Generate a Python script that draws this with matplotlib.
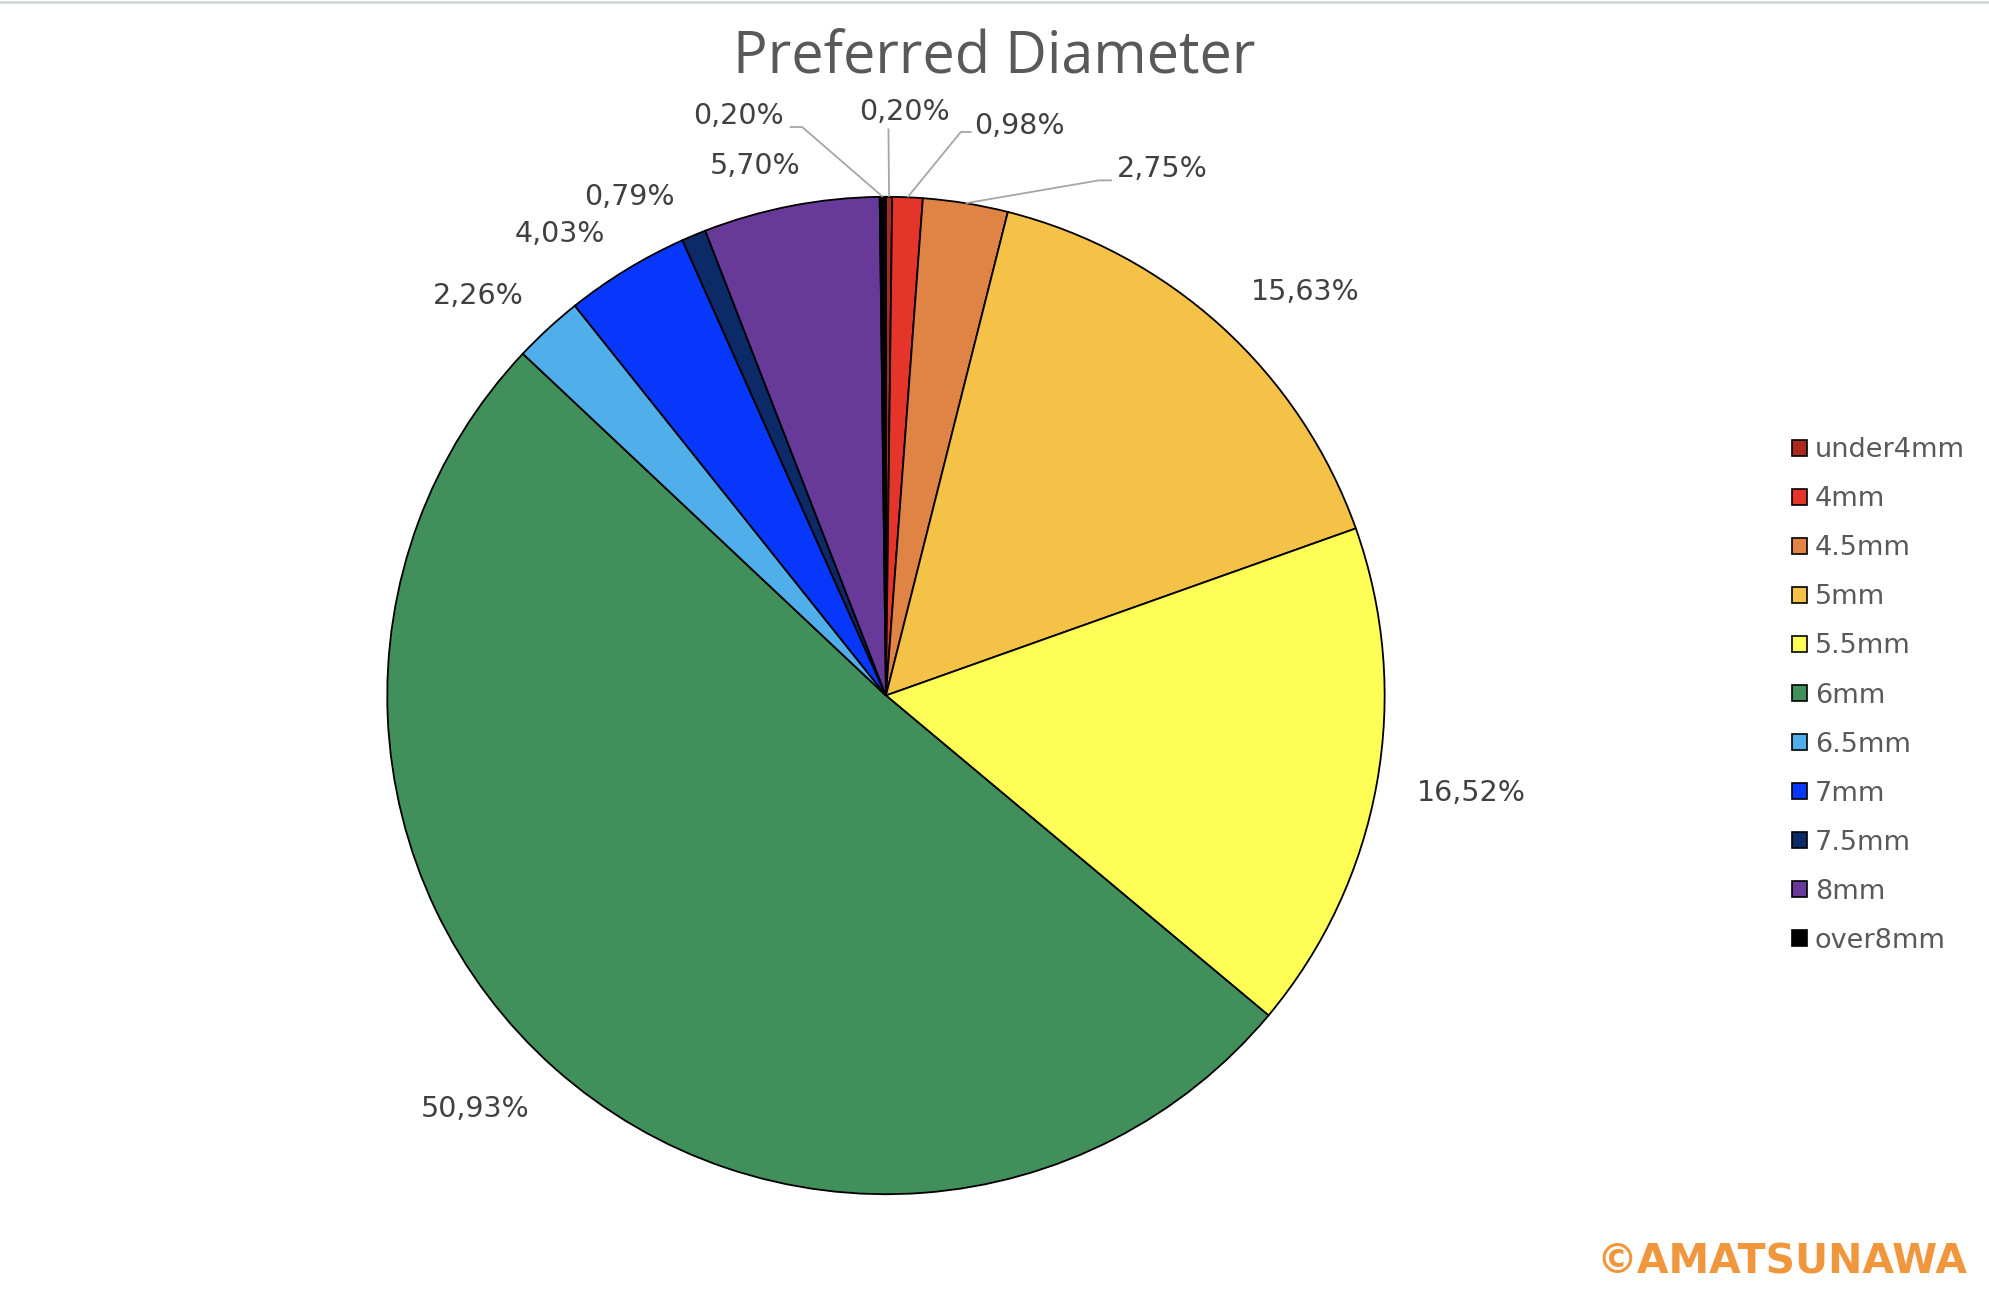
import numpy as np
import matplotlib
matplotlib.use("Agg")
import matplotlib.pyplot as plt
from matplotlib.patches import Patch
from matplotlib.lines import Line2D

# data
sizes = ["under4mm", "4mm", "4.5mm", "5mm", "5.5mm", "6mm",
         "6.5mm", "7mm", "7.5mm", "8mm", "over8mm"]
shares = [0.20, 0.98, 2.75, 15.63, 16.52, 50.93, 2.26, 4.03, 0.79, 5.70, 0.20]
colors = ["#a82a1f", "#e5352b", "#df8445", "#f3c247", "#fefe56", "#418f5b",
          "#50aeea", "#0637fb", "#0c2a68", "#673a9a", "#000000"]

# label text centres (pie radius = 1)
label_pos = {
    0: (0.038, 1.170), 1: (0.267, 1.142), 2: (0.555, 1.056),
    3: (0.840, 0.809), 4: (1.173, -0.196), 5: (-0.824, -0.830),
    6: (-0.817, 0.802), 7: (-0.654, 0.926), 8: (-0.514, 1.000),
    9: (-0.262, 1.061), 10: (-0.295, 1.163),
}
# leader lines: elbow and end of the short horizontal part
leader = {
    10: ((-0.168, 1.140), (-0.193, 1.140)),
    0:  ((0.005, 1.137), (0.005, 1.137)),
    1:  ((0.150, 1.130), (0.172, 1.130)),
    2:  ((0.427, 1.033), (0.453, 1.033)),
}

W, H = 19.9, 13.01
fig = plt.figure(figsize=(W, H), dpi=100)
fig.patch.set_facecolor("white")

cx, cy, rw = 0.4452, 0.4654, 0.2506
rh = rw * W / H
ax = fig.add_axes([cx - rw, cy - rh, 2 * rw, 2 * rh])
wedges, _ = ax.pie(shares, colors=colors, startangle=90, counterclock=False,
                   radius=1.0,
                   wedgeprops=dict(edgecolor="black", linewidth=1.3))
ax.set_xlim(-1, 1)
ax.set_ylim(-1, 1)
ax.set_aspect("equal")
ax.axis("off")

txt_color = "#404040"
fs = 20.5
for i, (w, v) in enumerate(zip(wedges, shares)):
    ang = np.deg2rad((w.theta1 + w.theta2) / 2)
    ex, ey = np.cos(ang), np.sin(ang)
    lab = f"{v:.2f}%".replace(".", ",")
    if i in leader:
        (bx, by), (hx, hy) = leader[i]
        ax.plot([ex, bx, hx], [ey, by, hy], color="#a6a6a6", lw=1.3,
                clip_on=False, solid_capstyle="butt")
    tx, ty = label_pos[i]
    ax.text(tx, ty, lab, ha="center", va="center", fontsize=fs,
            color=txt_color, clip_on=False)

handles = [Patch(facecolor=c, edgecolor="black", linewidth=1.2) for c in colors]
leg = fig.legend(handles, sizes, loc="center left",
                 bbox_to_anchor=(0.895, cy), frameon=False,
                 fontsize=19.5, handlelength=0.55, handleheight=0.55,
                 handletextpad=0.3, labelspacing=0.85, borderaxespad=0)
for t in leg.get_texts():
    t.set_color("#595959")

fig.text(0.4994, 0.955, "Preferred Diameter", ha="center", va="center",
         fontsize=41.5, color="#595959", family="Open Sans")
fig.text(0.9885, 0.0293, "\u00a9AMATSUNAWA", ha="right", va="center",
         fontsize=29.4, color="#f0963c", fontweight="bold")
fig.add_artist(Line2D([0, 1], [0.9985, 0.9985], color="#d5d8db", lw=2))

fig.savefig("out.png", dpi=100, facecolor="white")
